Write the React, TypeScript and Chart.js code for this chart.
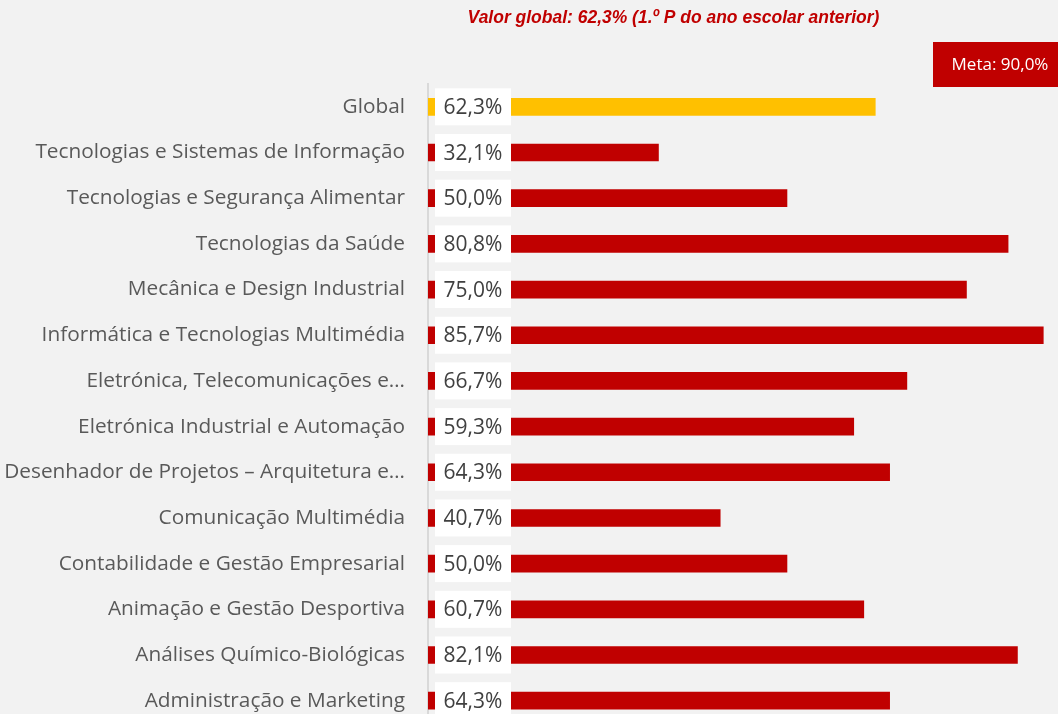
import React, { useEffect, useRef } from "react";
import { Chart, registerables } from "chart.js";

Chart.register(...registerables);

const categories = [
  "Global",
  "Tecnologias e Sistemas de Informação",
  "Tecnologias e Segurança Alimentar",
  "Tecnologias da Saúde",
  "Mecânica e Design Industrial",
  "Informática e Tecnologias Multimédia",
  "Eletrónica, Telecomunicações e…",
  "Eletrónica Industrial e Automação",
  "Desenhador de Projetos – Arquitetura e…",
  "Comunicação Multimédia",
  "Contabilidade e Gestão Empresarial",
  "Animação e Gestão Desportiva",
  "Análises Químico-Biológicas",
  "Administração e Marketing",
];
const values = [62.3, 32.1, 50.0, 80.8, 75.0, 85.7, 66.7, 59.3, 64.3, 40.7, 50.0, 60.7, 82.1, 64.3];
const titleText = "Valor global: 62,3% (1.º P do ano escolar anterior)";
const metaText = "Meta: 90,0%";

const RED = "#C00000";
const YELLOW = "#FFC000";
const FONT = "'Open Sans', 'Noto Sans', sans-serif";

const fmt = (v: number) => v.toFixed(1).replace(".", ",") + "%";

export default function App() {
  const ref = useRef<HTMLCanvasElement | null>(null);
  useEffect(() => {
    if (!ref.current) return;
    const bgPlugin = {
      id: "bg",
      beforeDraw(chart: any) {
        const ctx = chart.ctx;
        ctx.save();
        ctx.fillStyle = "#F2F2F2";
        ctx.fillRect(0, 0, chart.width, chart.height);
        ctx.restore();
      },
      afterDraw(chart: any) {
        const ctx = chart.ctx;
        ctx.save();
        // title (narrowed)
        ctx.fillStyle = RED;
        ctx.font = "italic bold 19px 'Liberation Sans', Arial, sans-serif";
        ctx.textAlign = "center";
        ctx.textBaseline = "middle";
        ctx.save();
        ctx.translate(673.5, 18);
        ctx.scale(0.92, 1);
        ctx.fillText(titleText, 0, 0);
        ctx.restore();
        // meta box
        ctx.fillStyle = RED;
        ctx.fillRect(933, 42, 125, 45);
        ctx.fillStyle = "#FFFFFF";
        ctx.font = "17px " + FONT;
        ctx.fillText(metaText, 1000, 65);
        ctx.restore();
      },
    };
    const labelPlugin = {
      id: "vals",
      afterDatasetsDraw(chart: any) {
        const ctx = chart.ctx;
        const meta = chart.getDatasetMeta(0);
        const x0 = chart.scales.x.getPixelForValue(0);
        ctx.save();
        ctx.font = "21px " + FONT;
        ctx.textAlign = "center";
        ctx.textBaseline = "middle";
        meta.data.forEach((el: any, i: number) => {
          ctx.fillStyle = "#FFFFFF";
          ctx.fillRect(x0 + 7, el.y - 18.5, 76, 37);
          ctx.fillStyle = "#404040";
          ctx.fillText(fmt(values[i]), x0 + 45, el.y + 1);
        });
        ctx.restore();
      },
    };
    const chart = new Chart(ref.current, {
      type: "bar",
      data: {
        labels: categories,
        datasets: [
          {
            data: values,
            backgroundColor: values.map((_, i) => (i === 0 ? YELLOW : RED)),
            barThickness: 17,
          },
        ],
      },
      options: {
        indexAxis: "y",
        animation: false,
        responsive: false,
        maintainAspectRatio: false,
        layout: { padding: { top: 84, right: 0, bottom: 0, left: 0 } },
        plugins: { legend: { display: false }, tooltip: { enabled: false }, title: { display: false } },
        scales: {
          x: { display: false, min: 0, max: 87.75 },
          y: {
            afterFit(scale: any) {
              scale.width = 428;
            },
            grid: { display: false, drawTicks: false },
            border: { display: true, color: "#D9D9D9", width: 2 },
            ticks: {
              padding: 23,
              color: "#595959",
              font: { family: FONT, size: 20.8 },
              autoSkip: false,
            },
          },
        },
      },
      plugins: [bgPlugin, labelPlugin],
    } as any);
    return () => chart.destroy();
  }, []);
  return (
    <div style={{ position: "fixed", left: 0, top: 0, width: 1058, height: 714, overflow: "hidden", background: "#F2F2F2" }}>
      <canvas ref={ref} width={1058} height={759} style={{ display: "block", width: 1058, height: 759 }} />
    </div>
  );
}
